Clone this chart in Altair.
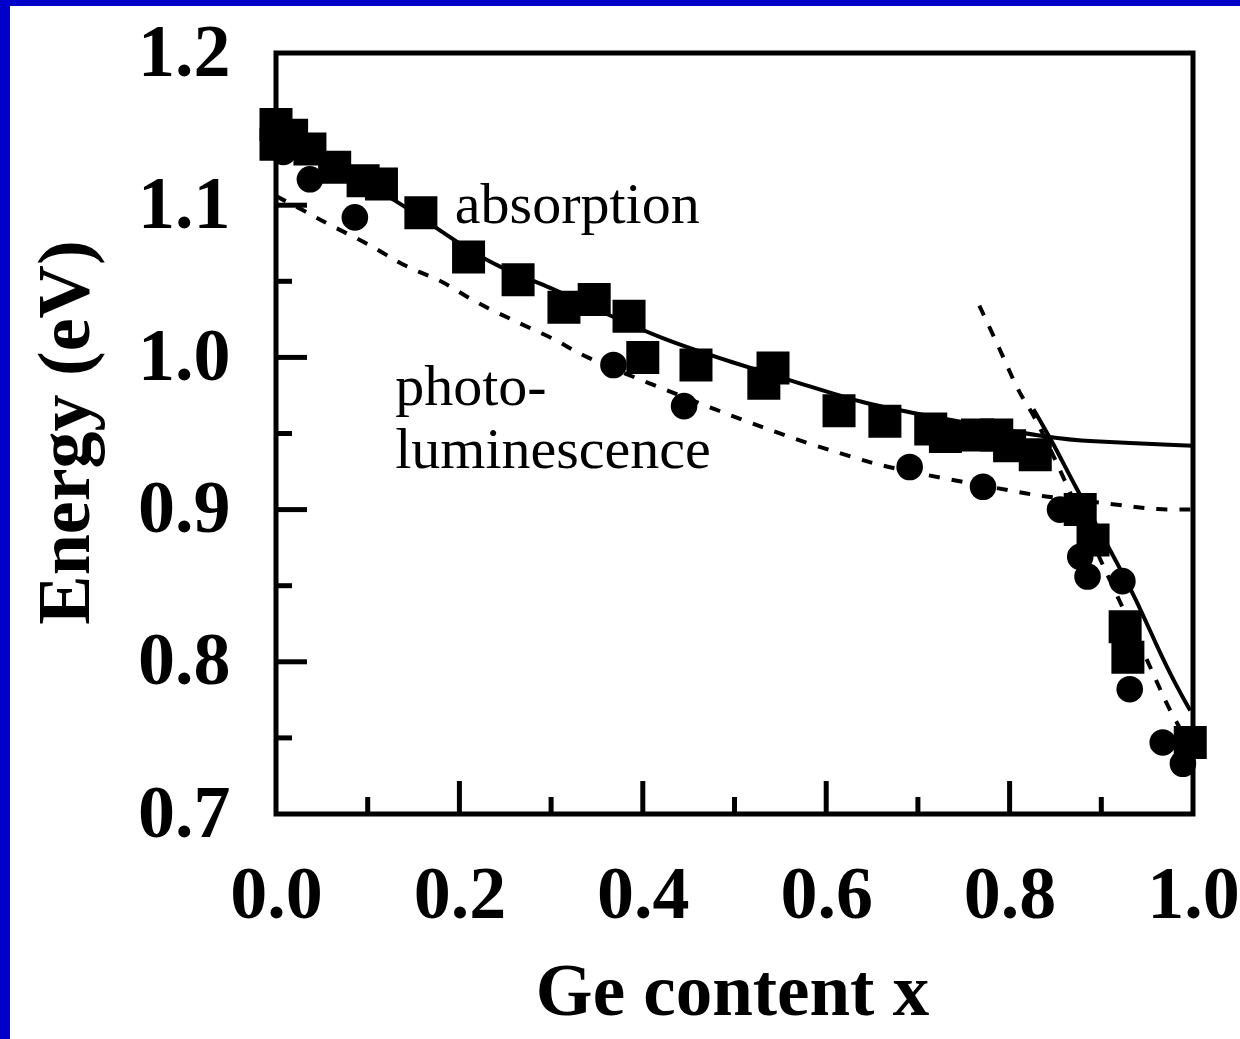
import altair as alt
import pandas as pd

# Absorption edge (filled squares), energy in eV vs Ge content x
abs_x = [0.000, 0.000, 0.017, 0.037, 0.064, 0.095, 0.115, 0.158, 0.210, 0.264,
         0.314, 0.347, 0.385, 0.400, 0.458, 0.532, 0.542, 0.614, 0.664, 0.714,
         0.730, 0.765, 0.786, 0.800, 0.828, 0.877, 0.891, 0.926, 0.929, 0.997]
abs_e = [1.153, 1.140, 1.146, 1.137, 1.125, 1.116, 1.114, 1.095, 1.066, 1.051,
         1.033, 1.038, 1.027, 1.000, 0.995, 0.983, 0.993, 0.965, 0.958, 0.953,
         0.948, 0.949, 0.949, 0.942, 0.936, 0.900, 0.880, 0.823, 0.803, 0.747]

# Photoluminescence (filled circles)
pl_x = [0.008, 0.037, 0.086, 0.368, 0.445, 0.691, 0.771, 0.855, 0.877, 0.885,
        0.923, 0.931, 0.967, 0.989]
pl_e = [1.135, 1.117, 1.092, 0.995, 0.968, 0.928, 0.915, 0.900, 0.869, 0.856,
        0.853, 0.782, 0.747, 0.733]

# Fitted gap curves: X-like branch and L-like (Ge-rich) branch
abs_fit_x = [0.000, 0.060, 0.135, 0.184, 0.238, 0.289, 0.355, 0.421, 0.496,
             0.582, 0.640, 0.690, 0.770, 0.848, 0.877, 1.000]
abs_fit_e = [1.152, 1.127, 1.102, 1.081, 1.060, 1.049, 1.030, 1.012, 0.997,
             0.981, 0.970, 0.964, 0.955, 0.947, 0.945, 0.942]
abs_ge_x = [0.826, 0.850, 0.868, 0.913, 0.938, 0.960, 0.981, 0.997]
abs_ge_e = [0.966, 0.941, 0.919, 0.870, 0.841, 0.811, 0.785, 0.768]

pl_fit_x = [0.000, 0.032, 0.055, 0.106, 0.131, 0.156, 0.182, 0.207, 0.232,
            0.257, 0.281, 0.308, 0.333, 0.407, 0.482, 0.531, 0.582, 0.632,
            0.658, 0.732, 0.806, 0.831, 0.907, 0.934, 0.959, 1.000]
pl_fit_e = [1.106, 1.096, 1.088, 1.073, 1.063, 1.056, 1.050, 1.040, 1.032,
            1.025, 1.018, 1.011, 1.001, 0.983, 0.965, 0.954, 0.943, 0.934,
            0.929, 0.920, 0.912, 0.909, 0.904, 0.902, 0.900, 0.900]
pl_ge_x = [0.767, 0.792, 0.812, 0.826, 0.868, 0.891, 0.955, 0.966, 0.980, 0.997]
pl_ge_e = [1.034, 1.002, 0.974, 0.964, 0.909, 0.877, 0.795, 0.779, 0.762, 0.745]

x_labels = [0.0, 0.2, 0.4, 0.6, 0.8, 1.0]
y_labels = [0.7, 0.8, 0.9, 1.0, 1.1, 1.2]
x_major = [0.2, 0.4, 0.6, 0.8]
x_minor = [0.1, 0.3, 0.5, 0.7, 0.9]
y_major = [0.8, 0.9, 1.0, 1.1]
y_minor = [0.75, 0.85, 0.95, 1.05, 1.15]

notes = ["absorption", "photo-", "luminescence"]
note_x = [0.195, 0.130, 0.130]
note_e = [1.0885, 0.969, 0.9275]

W, H = 917, 761
SERIF = "Liberation Serif"
EDGE = "#0000C8"

xs = alt.Scale(domain=[0, 1], nice=False, zero=False)
ys = alt.Scale(domain=[0.7, 1.2], nice=False, zero=False)

x_axis = alt.Axis(values=x_labels, format=".1f", domain=False, ticks=False, tickSize=0,
                  grid=False, labelFont=SERIF, labelFontWeight="bold", labelFontSize=74,
                  labelColor="black", labelBaseline="alphabetic", labelPadding=103,
                  labelFlush=False, labelOverlap=False, zindex=2,
                  title="Ge content x", titleFont=SERIF, titleFontWeight="bold",
                  titleFontSize=73, titleColor="black", titleX=456, titleY=200,
                  titleBaseline="alphabetic", titleAlign="center")
y_axis = alt.Axis(values=y_labels, format=".1f", domain=False, ticks=False, tickSize=0,
                  grid=False, labelFont=SERIF, labelFontWeight="bold", labelFontSize=74,
                  labelColor="black", labelAlign="right", labelBaseline="middle",
                  labelPadding=46, labelFlush=False, labelOverlap=False, zindex=2,
                  title="Energy (eV)", titleFont=SERIF, titleFontWeight="bold",
                  titleFontSize=74, titleColor="black", titleX=-188, titleY=379,
                  titleAngle=270, titleBaseline="alphabetic", titleAlign="center")

# every layer shares the same scale and axis definitions
X = alt.X("x:Q", scale=xs, axis=x_axis)
Y = alt.Y("e:Q", scale=ys, axis=y_axis)

one = pd.DataFrame({"k": [0]})
# blue edge along the left and top of the page
edge_left = alt.Chart(one).mark_rect(color=EDGE).encode(
    x=alt.value(-276), x2=alt.value(-266), y=alt.value(-53), y2=alt.value(986))
edge_top = alt.Chart(one).mark_rect(color=EDGE).encode(
    x=alt.value(-276), x2=alt.value(964), y=alt.value(-53), y2=alt.value(-47))

def line_df(xv, ev):
    return pd.DataFrame({"x": xv, "e": ev})

def curve(xv, ev, dashed):
    kw = dict(color="black", strokeWidth=4, interpolate="basis")
    if dashed:
        kw["strokeDash"] = [11, 12]
    return alt.Chart(line_df(xv, ev)).mark_line(**kw).encode(x=X, y=Y)

abs_curve = curve(abs_fit_x, abs_fit_e, False)
abs_ge_curve = curve(abs_ge_x, abs_ge_e, False)
pl_curve = curve(pl_fit_x, pl_fit_e, True)
pl_ge_curve = curve(pl_ge_x, pl_ge_e, True)

circles = alt.Chart(line_df(pl_x, pl_e)).mark_point(
    shape="circle", filled=True, color="black", opacity=1, size=707
).encode(x=X, y=Y)

squares = alt.Chart(line_df(abs_x, abs_e)).mark_point(
    shape="square", filled=True, color="black", opacity=1, size=1089
).encode(x=X, y=Y)

labels = alt.Chart(pd.DataFrame({"t": notes, "x": note_x, "e": note_e})).mark_text(
    font=SERIF, fontSize=58, color="black", align="left", baseline="alphabetic"
).encode(x=X, y=Y, text="t:N")

def xticks(vals, length):
    return alt.Chart(pd.DataFrame({"x": vals})).mark_rule(color="black", strokeWidth=5).encode(
        x=X, y=alt.value(H), y2=alt.value(H - length))

def yticks(vals, length):
    return alt.Chart(pd.DataFrame({"e": vals})).mark_rule(color="black", strokeWidth=5).encode(
        y=Y, x=alt.value(0), x2=alt.value(length))

frame = alt.Chart(one).mark_rect(
    fill="transparent", stroke="black", strokeWidth=5
).encode(x=alt.value(0), x2=alt.value(W), y=alt.value(0), y2=alt.value(H))

chart = alt.layer(
    edge_left, edge_top, abs_curve, abs_ge_curve, pl_curve, pl_ge_curve, circles, squares,
    labels, xticks(x_major, 33), xticks(x_minor, 17), yticks(y_major, 31),
    yticks(y_minor, 16), frame
).properties(
    width=W, height=H,
    autosize=alt.AutoSizeParams(type="none"),
    padding={"left": 276, "top": 53, "right": 47, "bottom": 225},
    background="white",
).configure_view(strokeWidth=0, fill="white")

chart.save("out.html", embed_options={"renderer": "svg", "actions": False})
